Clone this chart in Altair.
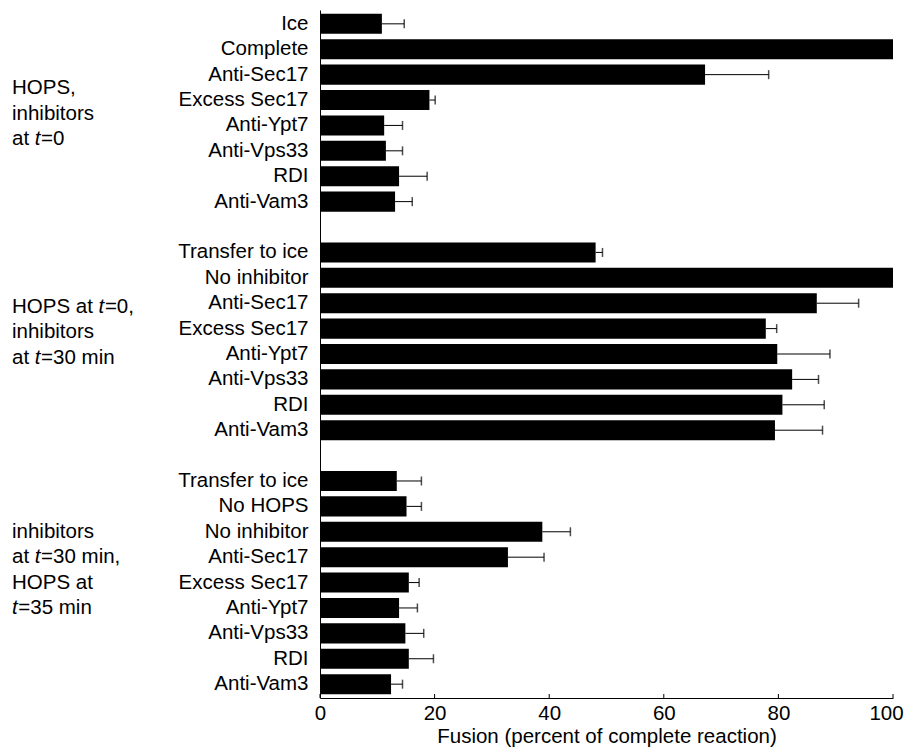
import altair as alt
import pandas as pd

# ---------------- data ----------------
group1_labels = ["Ice", "Complete", "Anti-Sec17", "Excess Sec17", "Anti-Ypt7",
                 "Anti-Vps33", "RDI", "Anti-Vam3"]
group1_values = [10.8, 100, 67.2, 19.1, 11.2, 11.5, 13.8, 13.1]
group1_errors = [3.9, 0, 11.1, 1.0, 3.2, 2.9, 4.9, 3.0]

group2_labels = ["Transfer to ice", "No inhibitor", "Anti-Sec17", "Excess Sec17",
                 "Anti-Ypt7", "Anti-Vps33", "RDI", "Anti-Vam3"]
group2_values = [48.1, 100, 86.7, 77.8, 79.8, 82.4, 80.7, 79.4]
group2_errors = [1.2, 0, 7.3, 1.9, 9.2, 4.6, 7.3, 8.3]

group3_labels = ["Transfer to ice", "No HOPS", "No inhibitor", "Anti-Sec17",
                 "Excess Sec17", "Anti-Ypt7", "Anti-Vps33", "RDI", "Anti-Vam3"]
group3_values = [13.4, 15.1, 38.8, 32.8, 15.5, 13.8, 14.9, 15.5, 12.4]
group3_errors = [4.3, 2.6, 4.9, 6.3, 1.8, 3.2, 3.2, 4.3, 2.0]

# group captions: each line is a list of (text, italic) pieces, anchored to a row
group1_caption = [("g1|Anti-Sec17", [("HOPS,", False)]),
                  ("g1|Excess Sec17", [("inhibitors", False)]),
                  ("g1|Anti-Ypt7", [("at ", False), ("t", True), ("=0", False)])]
group2_caption = [("g2|Anti-Sec17", [("HOPS at ", False), ("t", True), ("=0,", False)]),
                  ("g2|Excess Sec17", [("inhibitors", False)]),
                  ("g2|Anti-Ypt7", [("at ", False), ("t", True), ("=30 min", False)])]
group3_caption = [("g3|No inhibitor", [("inhibitors", False)]),
                  ("g3|Anti-Sec17", [("at ", False), ("t", True), ("=30 min,", False)]),
                  ("g3|Excess Sec17", [("HOPS at", False)]),
                  ("g3|Anti-Ypt7", [("t", True), ("=35 min", False)])]

x_ticks = [0, 20, 40, 60, 80, 100]
x_title = "Fusion (percent of complete reaction)"

# ---------------- table ----------------
rows = []
domain = []
groups = [("g1", group1_labels, group1_values, group1_errors),
          ("g2", group2_labels, group2_values, group2_errors),
          ("g3", group3_labels, group3_values, group3_errors)]
for gi, (g, labs, vals, errs) in enumerate(groups):
    for lab, v, e in zip(labs, vals, errs):
        key = f"{g}|{lab}"
        domain.append(key)
        rows.append({"key": key, "value": v, "err": e, "hi": v + e})
    if gi < len(groups) - 1:
        domain.append(f"s{gi+1}|")
df = pd.DataFrame(rows)
df_err = df[df["err"] > 0]

FONT = "Liberation Sans"
FS = 20.5
W, H = 573, 688

yscale = alt.Scale(domain=domain, paddingInner=0.21, paddingOuter=0.15)
xscale = alt.Scale(domain=[0, 100], nice=False)
Y = alt.Y("key:N", scale=yscale, sort=domain)

y_enc = alt.Y("key:N", scale=yscale, sort=domain,
              axis=alt.Axis(title=None, ticks=False, labelPadding=12,
                            labelExpr="split(datum.value, '|')[1]",
                            labelFont=FONT, labelFontSize=FS, labelColor="black",
                            domainColor="black", domainWidth=1, labelLimit=300))

bars = alt.Chart(df).mark_bar(color="black").encode(
    x=alt.X("value:Q", scale=xscale,
            axis=alt.Axis(values=x_ticks, ticks=False, labelPadding=5,
                          labelFlush=False,
                          labelOffset={"condition": {"test": "datum.value == 100", "value": -7},
                                       "value": 0},
                          title=x_title, titlePadding=3,
                          labelFont=FONT, labelFontSize=FS, labelColor="black",
                          titleFont=FONT, titleFontSize=FS, titleFontWeight="normal",
                          titleColor="black", domainColor="black", domainWidth=1,
                          grid=False)),
    y=y_enc,
)

err_line = alt.Chart(df_err).mark_rule(color="black", strokeWidth=1).encode(
    x=alt.X("value:Q", scale=xscale), x2="hi:Q", y=Y)

err_cap = alt.Chart(df_err).mark_tick(color="black", size=9, thickness=1.5).encode(
    x=alt.X("hi:Q", scale=xscale), y=Y)

tick_df = pd.DataFrame({"t": x_ticks})
x_tick_marks = alt.Chart(tick_df).mark_rule(color="black", strokeWidth=1).encode(
    x=alt.X("t:Q", scale=xscale), y=alt.value(H), y2=alt.value(H - 4))

# ---------------- group captions ----------------
X0 = -308
# approximate Arial advance widths (em) for caption text
CW = {" ": .278, "a": .556, "t": .278, "H": .722, "O": .778, "P": .667, "S": .667}


def seg_width(s):
    return sum(CW.get(c, .556) for c in s) * FS


caption_layers = []
for caption, dy in [(group1_caption, 13.5), (group2_caption, 3.5), (group3_caption, 0)]:
    for key, pieces in caption:
        x = X0
        for txt, ital in pieces:
            d = pd.DataFrame({"key": [key], "txt": [txt]})
            caption_layers.append(
                alt.Chart(d).mark_text(
                    align="left", baseline="middle", font=FONT, fontSize=FS,
                    color="black", dy=dy,
                    fontStyle="italic" if ital else "normal",
                ).encode(x=alt.value(x), y=Y, text="txt:N")
            )
            x += seg_width(txt) + (0.6 if ital else 0)

chart = alt.layer(bars, err_line, err_cap, x_tick_marks, *caption_layers).properties(
    width=W, height=H,
    autosize=alt.AutoSizeParams(type="none"),
    padding={"left": 312, "top": 2, "right": 11, "bottom": 51},
).configure(font=FONT).configure_view(stroke=None)

chart.save("out.html", embed_options={"renderer": "svg", "actions": False})
